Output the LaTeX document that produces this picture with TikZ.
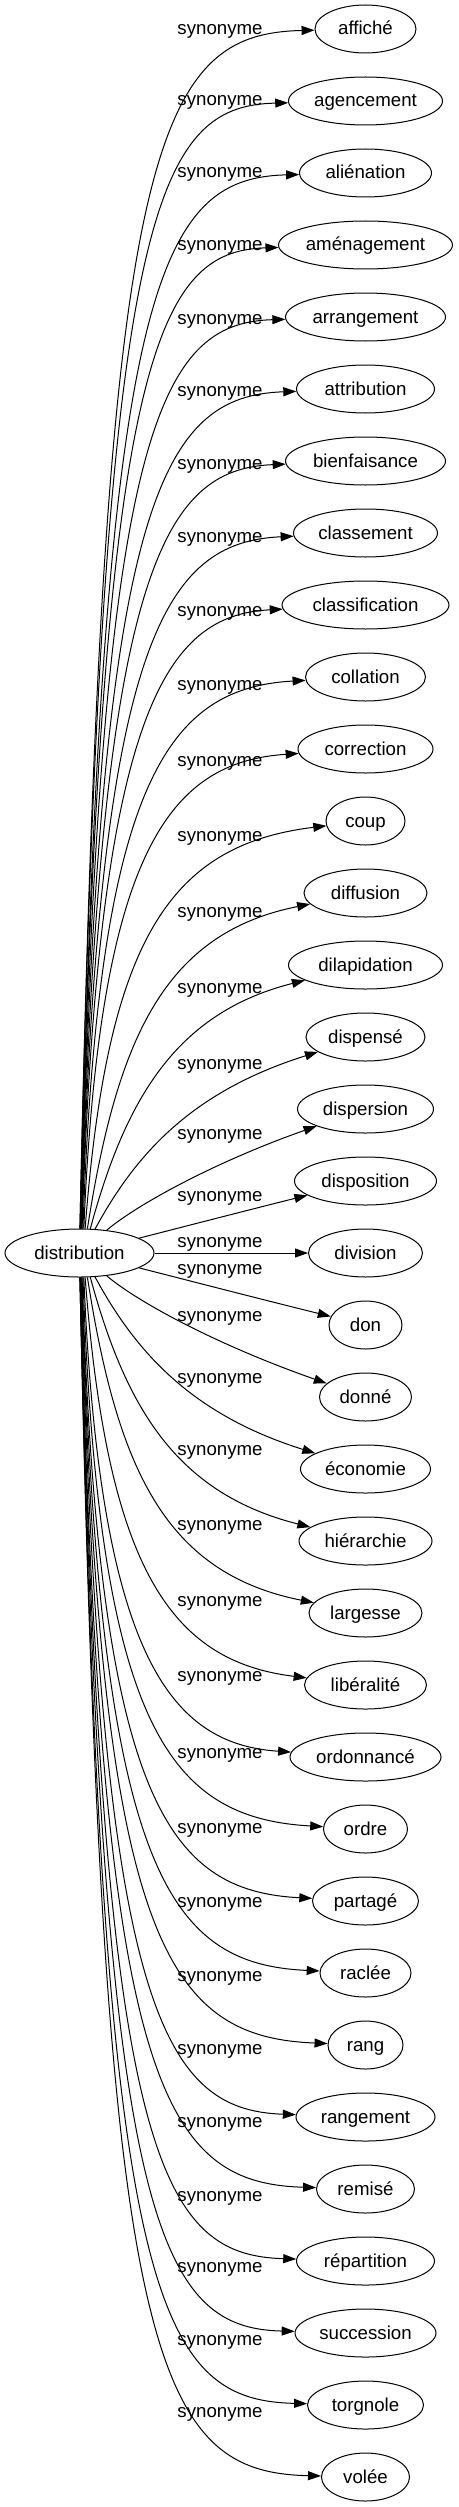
\documentclass[tikz,border=0pt]{standalone}
\usepackage{fontspec}
\setmainfont{Liberation Sans}
\usetikzlibrary{arrows.meta,shapes.geometric}

\begin{document}
\begin{tikzpicture}[x=1pt,y=1pt,
    syn/.style={ellipse,draw,line width=1pt,minimum height=48pt,inner sep=0pt,
      font=\fontsize{18.67}{22}\selectfont,text height=13.5pt,text depth=1.5pt},
    rel/.style={draw,line width=1pt,-{Triangle[length=13pt,width=9pt]}},
    lbl/.style={anchor=base,inner sep=0pt,font=\fontsize{18.67}{22}\selectfont}]
    \useasboundingbox (0,0) rectangle (458,-2507);

    % Source word
    \node[syn,minimum width=149pt] (dist) at (79.5,-1253) {distribution};

    % Synonyms
    \node[syn,minimum width=101pt] (n0) at (365.5,-29) {affiché};
    \node[syn,minimum width=154pt] (n1) at (365.5,-101) {agencement};
    \node[syn,minimum width=132pt] (n2) at (365.5,-173) {aliénation};
    \node[syn,minimum width=174pt] (n3) at (365.5,-245) {aménagement};
    \node[syn,minimum width=160pt] (n4) at (365.5,-317) {arrangement};
    \node[syn,minimum width=138pt] (n5) at (365.5,-389) {attribution};
    \node[syn,minimum width=160pt] (n6) at (365.5,-461) {bienfaisance};
    \node[syn,minimum width=144pt] (n7) at (365.5,-533) {classement};
    \node[syn,minimum width=167pt] (n8) at (365.5,-605) {classification};
    \node[syn,minimum width=120pt] (n9) at (365.5,-677) {collation};
    \node[syn,minimum width=135pt] (n10) at (365.5,-749) {correction};
    \node[syn,minimum width=79pt] (n11) at (365.5,-821) {coup};
    \node[syn,minimum width=123pt] (n12) at (365.5,-893) {diffusion};
    \node[syn,minimum width=154pt] (n13) at (365.5,-965) {dilapidation};
    \node[syn,minimum width=119pt] (n14) at (365.5,-1037) {dispensé};
    \node[syn,minimum width=136pt] (n15) at (365.5,-1109) {dispersion};
    \node[syn,minimum width=142pt] (n16) at (365.5,-1181) {disposition};
    \node[syn,minimum width=114pt] (n17) at (365.5,-1253) {division};
    \node[syn,minimum width=73pt] (n18) at (365.5,-1325) {don};
    \node[syn,minimum width=92pt] (n19) at (365.5,-1397) {donné};
    \node[syn,minimum width=130pt] (n20) at (365.5,-1469) {économie};
    \node[syn,minimum width=133pt] (n21) at (365.5,-1541) {hiérarchie};
    \node[syn,minimum width=113pt] (n22) at (365.5,-1613) {largesse};
    \node[syn,minimum width=122pt] (n23) at (365.5,-1685) {libéralité};
    \node[syn,minimum width=151pt] (n24) at (365.5,-1757) {ordonnancé};
    \node[syn,minimum width=84pt] (n25) at (365.5,-1829) {ordre};
    \node[syn,minimum width=106pt] (n26) at (365.5,-1901) {partagé};
    \node[syn,minimum width=91pt] (n27) at (365.5,-1973) {raclée};
    \node[syn,minimum width=75pt] (n28) at (365.5,-2045) {rang};
    \node[syn,minimum width=139pt] (n29) at (365.5,-2117) {rangement};
    \node[syn,minimum width=98pt] (n30) at (365.5,-2189) {remisé};
    \node[syn,minimum width=138pt] (n31) at (365.5,-2261) {répartition};
    \node[syn,minimum width=141pt] (n32) at (365.5,-2333) {succession};
    \node[syn,minimum width=116pt] (n33) at (365.5,-2405) {torgnole};
    \node[syn,minimum width=88pt] (n34) at (365.5,-2477) {volée};

    % Straight edge
    \draw[rel] (dist) -- (n17) node[lbl,at={(220,-1247)}] {synonyme};

    % Curved edges (k = rows away from the source)
    \foreach \i/\ly in {0/31,1/102,2/174,3/247,4/320,5/392,6/465,7/538,8/612,
        9/686,10/762,11/837,12/913,13/989,14/1065,15/1135,16/1197,18/1270,
        19/1317,20/1379,21/1451,22/1526,23/1602,24/1677,25/1754,26/1829,
        27/1903,28/1977,29/2050,30/2123,31/2197,32/2268,33/2341,34/2413} {
      \pgfmathtruncatemacro\k{abs(17-\i)}
      \pgfmathsetmacro\s{\i<17 ? 1 : -1}
      \pgfmathsetmacro\ao{{0,14,40,57,66,72,77,80,82,84,85,86,87,87.5,88,88.5,89,89}[\k]}
      \pgfmathsetmacro\pa{{0,20,33,40,35,30,22,16,16,17,18,19,20,20,21,22,22,23}[\k]}
      \pgfmathsetmacro\pb{{0,.72,.65,.55,.47,.40,.28,.20,.18,.16,.15,.14,.13,.12,.11,.11,.10,.10}[\k]}
      \pgfmathsetmacro\pc{{0,268,220,190,175,165,168,170,168,166,164,162,160,158,156,154,152,150}[\k]}
      \pgfmathsetmacro\pe{{0,24,51,55,48,40,24,13,11,10,9,8,7,6,6,5,5,5}[\k]}
      \pgfmathsetmacro\an{\i<17 ? \ao : 360-\ao}
      \pgfmathsetmacro\rr{1/sqrt((cos(\ao)/74.5)^2+(sin(\ao)/24)^2)}
      \pgfmathsetmacro\cax{79.5+\rr*cos(\ao)+\pa}
      \pgfmathsetmacro\cay{-(29+72*\i+\s*\pb*72*\k)}
      \pgfmathsetmacro\cby{-(29+72*\i+\s*\pe)}
      \pgfmathsetmacro\yl{-(\ly+4)}
      \draw[rel] (dist.\an) .. controls (\cax,\cay) and (\pc,\cby) .. (n\i)
        node[lbl,at={(220,\yl)}] {synonyme};
    }
\end{tikzpicture}
\end{document}
